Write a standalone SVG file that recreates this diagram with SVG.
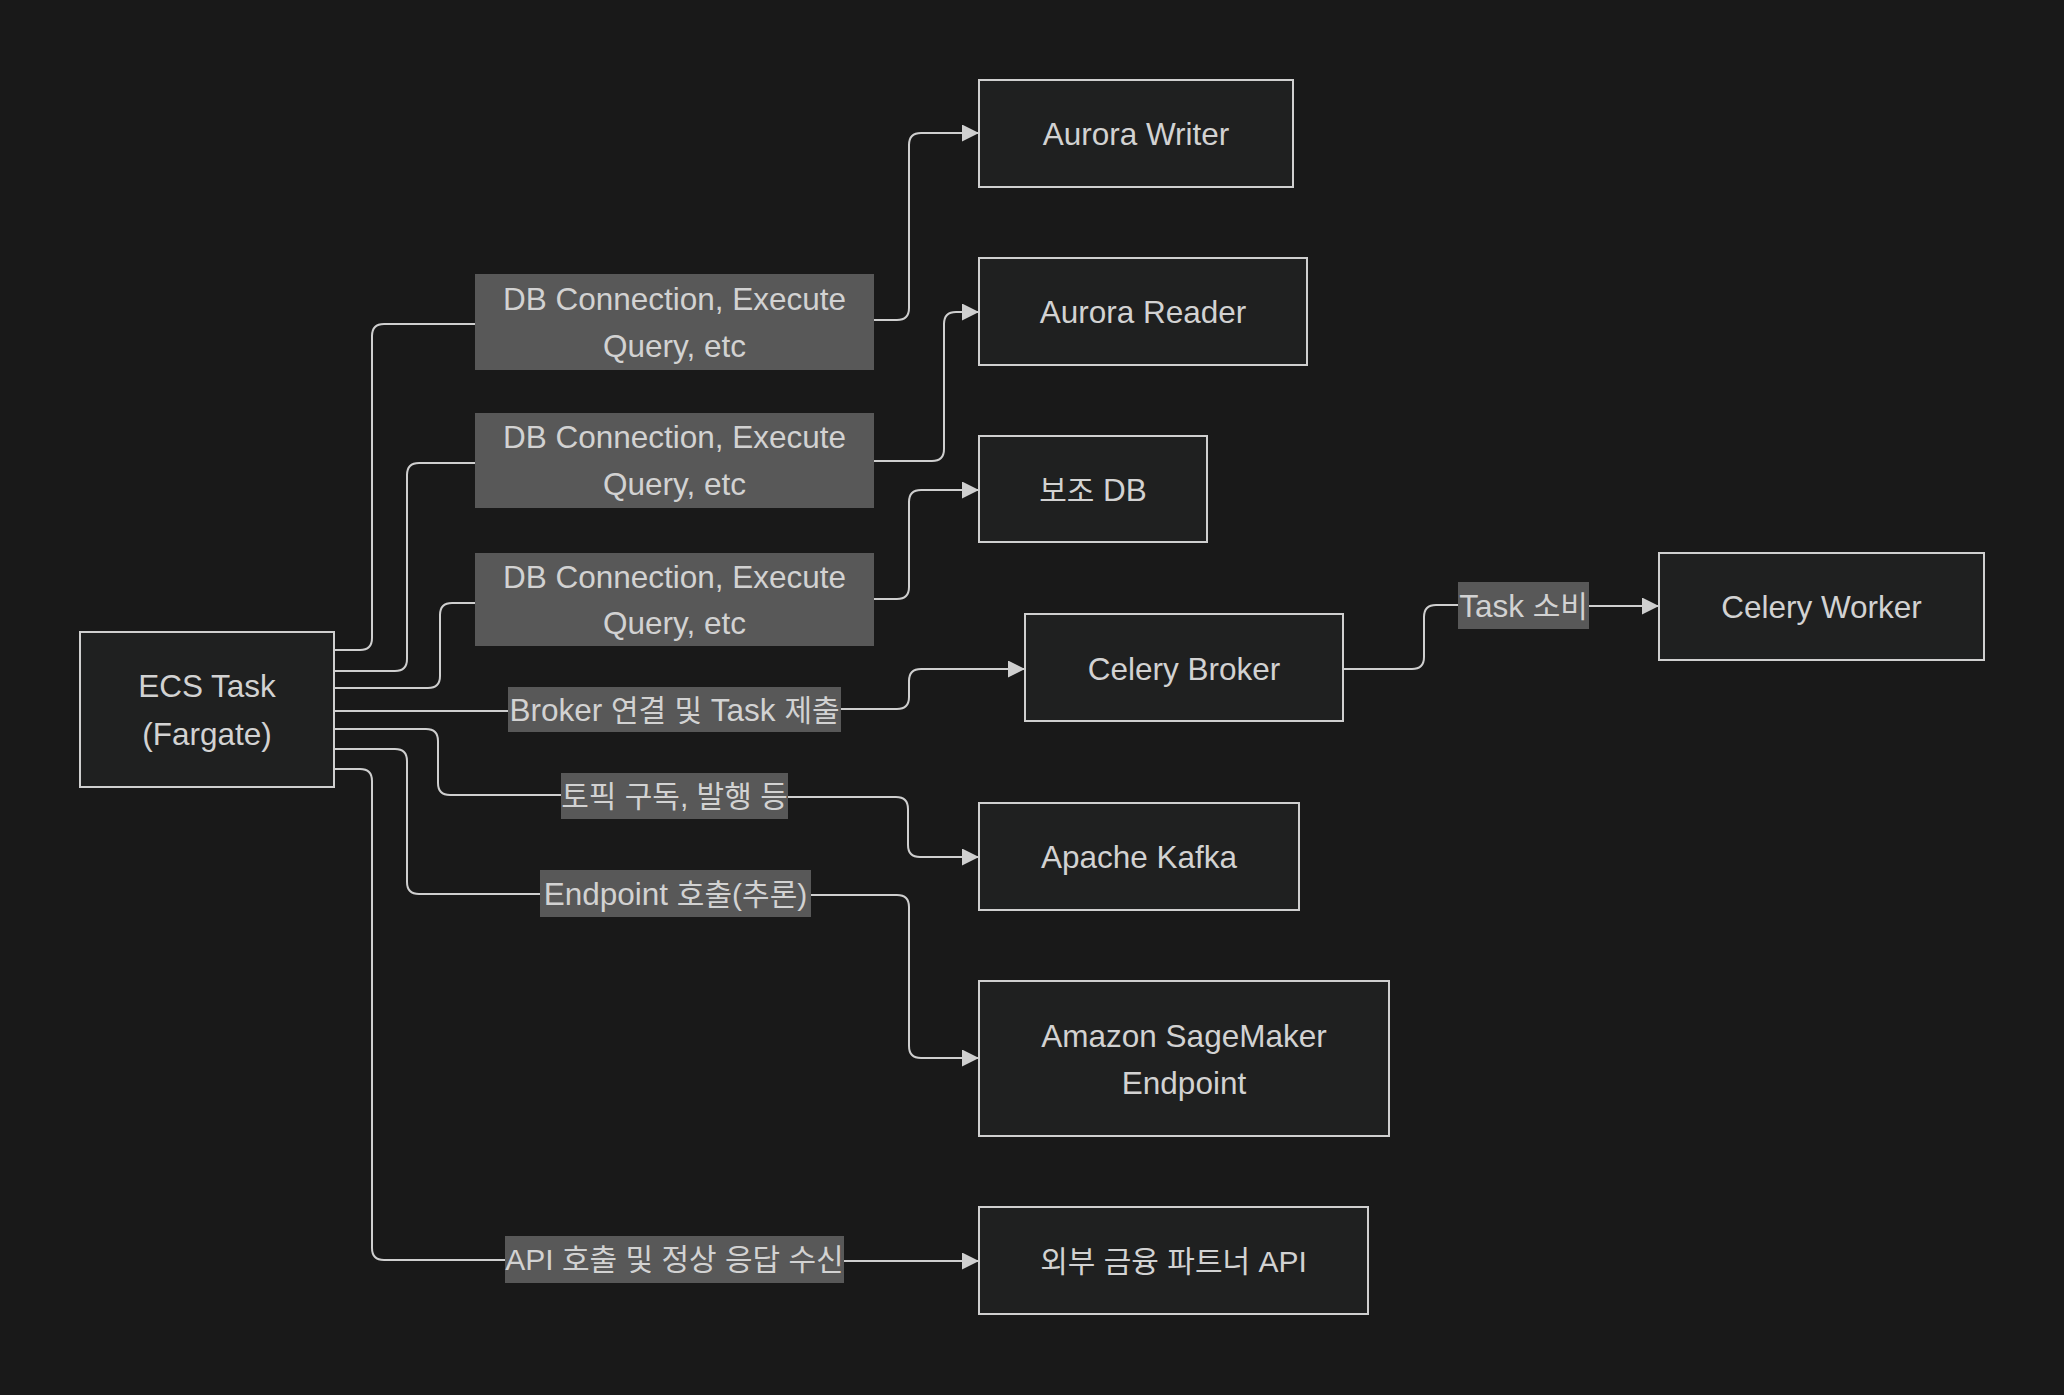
<svg xmlns="http://www.w3.org/2000/svg" width="2064" height="1395" viewBox="0 0 2064 1395">
<defs>
<style>
.node rect{fill:#1f2020;stroke:#cfcfcf;stroke-width:2}
.t{font-family:"Liberation Sans","Noto Sans CJK KR",sans-serif;font-size:31.5px;fill:#d2d2d2;text-anchor:middle;dominant-baseline:central}
.k{font-size:30px}
.edge{fill:none;stroke:#cfcfcf;stroke-width:2}
.lbl rect{fill:#585858}
</style>
<marker id="arrow" viewBox="0 0 12 12" refX="12" refY="6" markerUnits="userSpaceOnUse" markerWidth="17" markerHeight="17" orient="auto">
<path d="M0,0 L12,6 L0,12 z" fill="#cfcfcf"/>
</marker>
</defs>
<rect width="2064" height="1395" fill="#191919"/>

<g id="connectors">
<path class="edge" d="M334,650 L360,650 Q372,650 372,638 L372,336 Q372,324 384,324 L475,324"/>
<path class="edge" marker-end="url(#arrow)" d="M874,320 L897,320 Q909,320 909,308 L909,145 Q909,133 921,133 L979,133"/>
<path class="edge" d="M334,671 L395,671 Q407,671 407,659 L407,475 Q407,463 419,463 L475,463"/>
<path class="edge" marker-end="url(#arrow)" d="M874,461 L932,461 Q944,461 944,449 L944,324 Q944,312 956,312 L979,312"/>
<path class="edge" d="M334,688 L428,688 Q440,688 440,676 L440,615 Q440,603 452,603 L475,603"/>
<path class="edge" marker-end="url(#arrow)" d="M874,599 L897,599 Q909,599 909,587 L909,502 Q909,490 921,490 L979,490"/>
<path class="edge" d="M334,711 L508,711"/>
<path class="edge" marker-end="url(#arrow)" d="M841,709 L897,709 Q909,709 909,697 L909,681 Q909,669 921,669 L1025,669"/>
<path class="edge" d="M334,729 L426,729 Q438,729 438,741 L438,783 Q438,795 450,795 L561,795"/>
<path class="edge" marker-end="url(#arrow)" d="M788,797 L896,797 Q908,797 908,809 L908,845 Q908,857 920,857 L979,857"/>
<path class="edge" d="M334,749 L395,749 Q407,749 407,761 L407,882 Q407,894 419,894 L540,894"/>
<path class="edge" marker-end="url(#arrow)" d="M811,895 L897,895 Q909,895 909,907 L909,1046 Q909,1058 921,1058 L979,1058"/>
<path class="edge" d="M334,769 L360,769 Q372,769 372,781 L372,1248 Q372,1260 384,1260 L505,1260"/>
<path class="edge" marker-end="url(#arrow)" d="M844,1261 L979,1261"/>
<path class="edge" d="M1343,669 L1412,669 Q1424,669 1424,657 L1424,617 Q1424,605 1436,605 L1458,605"/>
<path class="edge" marker-end="url(#arrow)" d="M1589,606 L1659,606"/>

<g class="lbl">
<rect x="475" y="274" width="399" height="96"/>
<text class="t" x="674.5" y="299">DB Connection, Execute</text>
<text class="t" x="674.5" y="346">Query, etc</text>
<rect x="475" y="413" width="399" height="95"/>
<text class="t" x="674.5" y="437">DB Connection, Execute</text>
<text class="t" x="674.5" y="484">Query, etc</text>
<rect x="475" y="553" width="399" height="93"/>
<text class="t" x="674.5" y="577">DB Connection, Execute</text>
<text class="t" x="674.5" y="623">Query, etc</text>
<rect x="508" y="687" width="333" height="45"/>
<text class="t" x="674.5" y="709.5">Broker <tspan class="k">연결 및</tspan> Task <tspan class="k">제출</tspan></text>
<rect x="561" y="773" width="227" height="46"/>
<text class="t k" x="674.5" y="796">토픽 구독, 발행 등</text>
<rect x="540" y="870" width="271" height="47"/>
<text class="t" x="675.5" y="893.5">Endpoint <tspan class="k">호출(추론)</tspan></text>
<rect x="505" y="1236" width="339" height="47"/>
<text class="t k" x="674.5" y="1259.5">API 호출 및 정상 응답 수신</text>
<rect x="1458" y="582" width="131" height="47"/>
<text class="t" x="1523.5" y="605.5">Task <tspan class="k">소비</tspan></text>
</g>
</g>

<g id="ecs-task" class="node">
<rect x="80" y="632" width="254" height="155"/>
<text class="t" x="207" y="686">ECS Task</text>
<text class="t" x="207" y="734">(Fargate)</text>
</g>
<g id="aurora-writer" class="node">
<rect x="979" y="80" width="314" height="107"/>
<text class="t" x="1136" y="134">Aurora Writer</text>
</g>
<g id="aurora-reader" class="node">
<rect x="979" y="258" width="328" height="107"/>
<text class="t" x="1143" y="312">Aurora Reader</text>
</g>
<g id="sub-db" class="node">
<rect x="979" y="436" width="228" height="106"/>
<text class="t" x="1093" y="490"><tspan class="k">보조</tspan> DB</text>
</g>
<g id="celery-broker" class="node">
<rect x="1025" y="614" width="318" height="107"/>
<text class="t" x="1184" y="669">Celery Broker</text>
</g>
<g id="celery-worker" class="node">
<rect x="1659" y="553" width="325" height="107"/>
<text class="t" x="1821.5" y="607">Celery Worker</text>
</g>
<g id="apache-kafka" class="node">
<rect x="979" y="803" width="320" height="107"/>
<text class="t" x="1139" y="857">Apache Kafka</text>
</g>
<g id="sagemaker" class="node">
<rect x="979" y="981" width="410" height="155"/>
<text class="t" x="1184" y="1036">Amazon SageMaker</text>
<text class="t" x="1184" y="1083">Endpoint</text>
</g>
<g id="partner-api" class="node">
<rect x="979" y="1207" width="389" height="107"/>
<text class="t k" x="1173.5" y="1261">외부 금융 파트너 API</text>
</g>
</svg>
